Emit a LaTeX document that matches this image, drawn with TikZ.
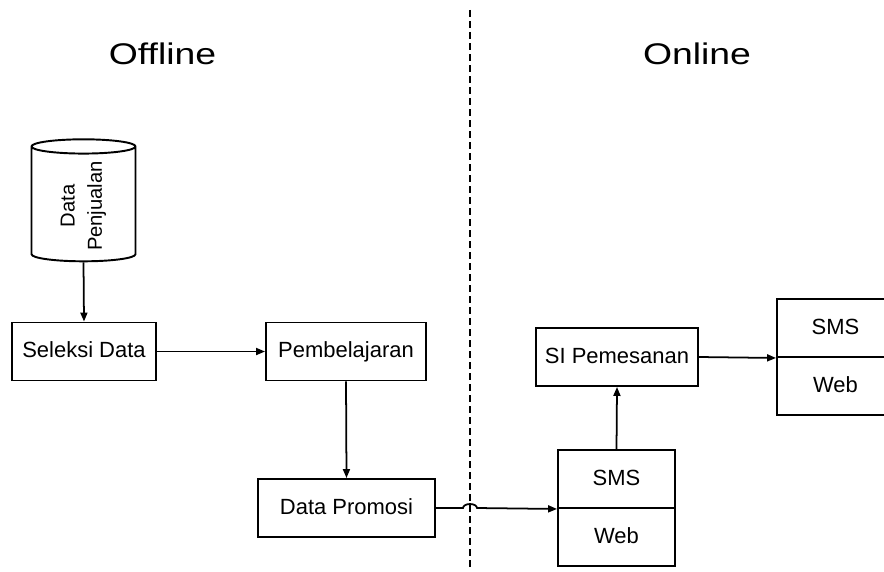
\documentclass[tikz,border=0pt]{standalone}
\usepackage{fontspec}
\setmainfont{Liberation Sans}
\usepackage{tikz}
\usetikzlibrary{shapes.geometric,arrows.meta}
\tikzset{proses/.style={black,draw=black,line width=1.1pt,fill=white,rectangle,minimum height=1.16cm,text height=1.8ex,text depth=0.5ex,font=\fontsize{12.5}{14}\selectfont}}
\tikzset{media/.style={black,draw=black,line width=1.1pt,fill=white,rectangle,minimum width=2.34cm,minimum height=1.16cm,text height=1.8ex,text depth=0.5ex,font=\fontsize{12.5}{14}\selectfont}}
\tikzset{gudang/.style={black,draw=black,line width=1.1pt,fill=white,cylinder,aspect=0.25,rotate=90,minimum height=2.44cm,minimum width=2.08cm,align=center,font=\fontsize{11.5}{15.5}\selectfont}}
\tikzset{judul/.style={xscale=1.25,transform shape,font=\fontsize{17}{20}\selectfont}}
\tikzset{panah/.style={-{Triangle[length=1.8mm,width=1.4mm]},line width=1pt}}
\tikzset{batas/.style={line width=1.3pt,dash pattern=on 0.14cm off 0.08cm}}

\begin{document}
\begin{tikzpicture}
    \useasboundingbox (0,0) rectangle (17.68,11.42);
    \clip (0,0) rectangle (17.68,11.42);

    \node[judul] (offline) at (3.25,10.34) {Offline};
    \node[judul] (online) at (13.94,10.34) {Online};

    \coordinate (garisA) at (9.40,11.22);
    \coordinate (garisB) at (9.40,0);
    \draw[batas] (garisA) -- (garisB);

    \node[gudang] (db) at (1.67,7.30) {Data\\Penjualan};

    \node[proses,minimum width=2.88cm] (seleksi) at (1.68,4.39) {Seleksi Data};

    \node[proses,minimum width=3.2cm] (belajar) at (6.92,4.39) {Pembelajaran};

    \node[proses,minimum width=3.54cm] (promosi) at (6.93,1.26) {Data Promosi};

    \node[proses,minimum width=3.24cm] (pesan) at (12.34,4.28) {SI Pemesanan};

    \node[media] (sms1) at (12.33,1.84) {SMS};
    \node[media] (web1) at (12.33,0.68) {Web};

    \node[media] (sms2) at (16.71,4.86) {SMS};
    \node[media] (web2) at (16.71,3.70) {Web};

    \coordinate (hop) at (9.40,1.26);

    \draw[panah] (db.west) -- (seleksi.north);
    \draw[panah] (seleksi) -- (belajar);
    \draw[panah] (belajar.south) -- (promosi.north);
    \draw[panah] (promosi.east) -- ([xshift=-0.14cm]hop)
        arc[start angle=180,end angle=0,x radius=0.14cm,y radius=0.08cm]
        -- (sms1.south west);
    \draw[panah] (sms1.north) -- (pesan.south);
    \draw[panah] (pesan.east) -- (sms2.south west);
  \end{tikzpicture}
\end{document}
